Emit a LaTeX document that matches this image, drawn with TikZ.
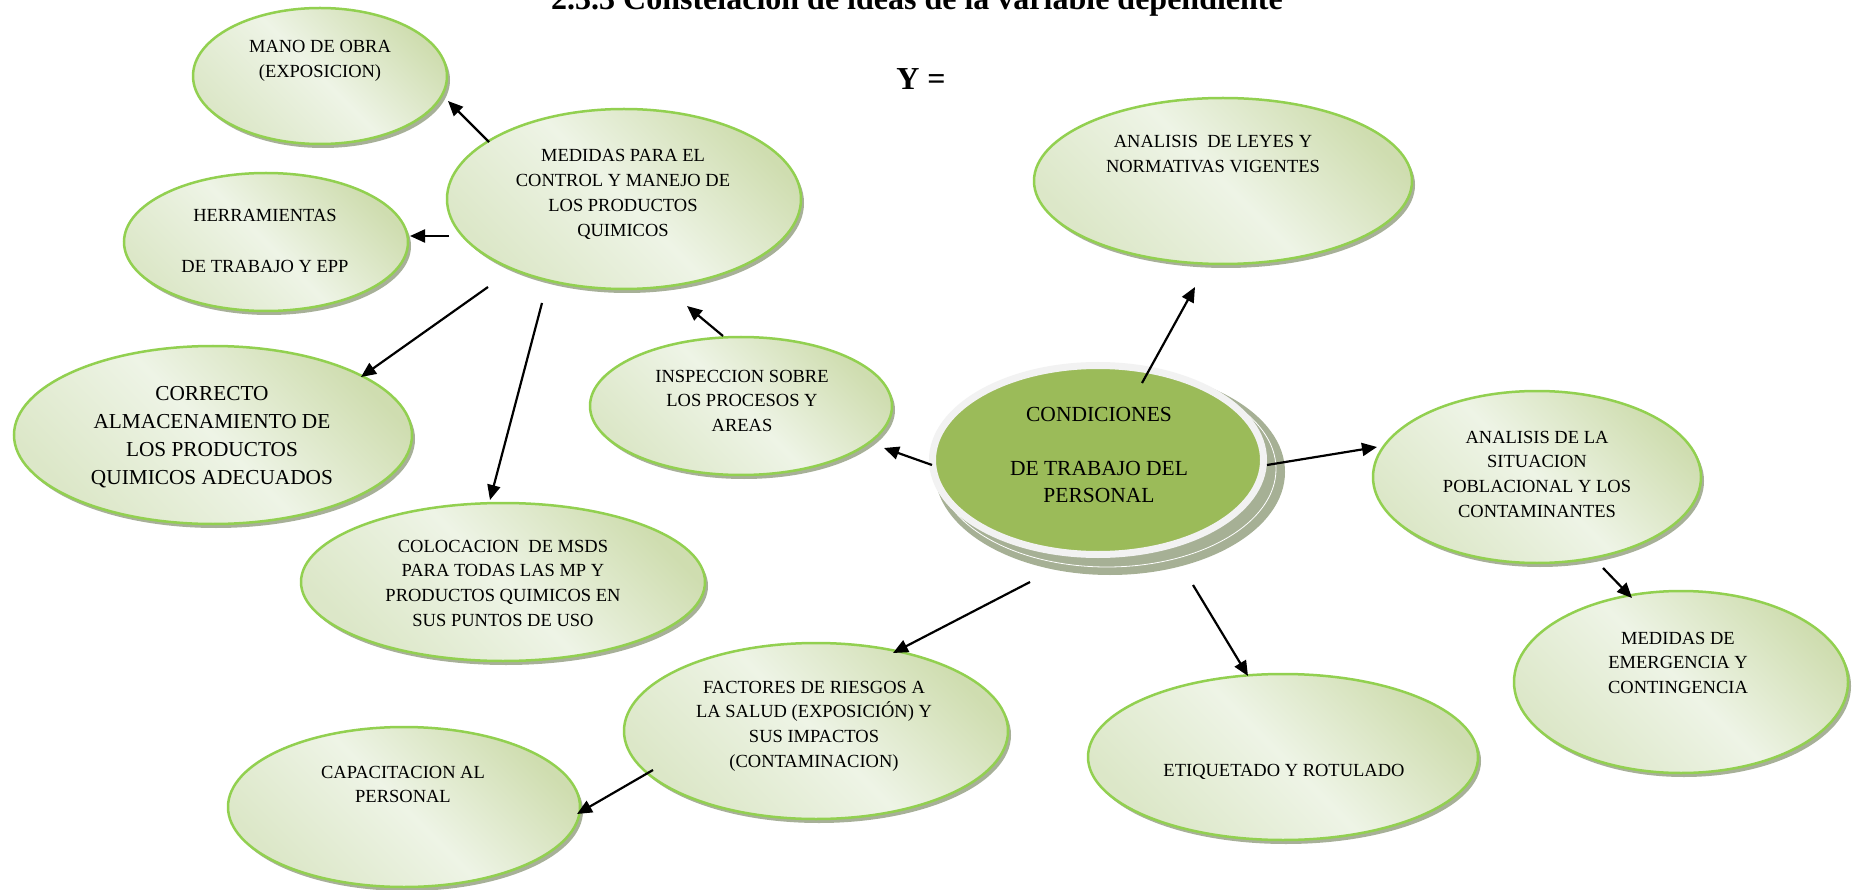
\documentclass[tikz,border=0pt]{standalone}
\usepackage{fontspec}
\setmainfont{Liberation Serif}
\usetikzlibrary{shapes.geometric,shadows,arrows.meta}
\definecolor{gborder}{HTML}{92D050}
\definecolor{glight}{HTML}{EEF4E6}
\definecolor{gdark}{HTML}{CFDDB0}
\definecolor{gmid}{HTML}{DCE7C8}
\definecolor{gshadow}{HTML}{98A387}
\definecolor{cgreen}{HTML}{9BBB59}
\definecolor{ringc}{HTML}{F2F2F2}
\definecolor{cshadow}{HTML}{A6B095}
\newcommand\tl[1]{\begin{tabular}[t]{@{}c@{}}#1\end{tabular}}
\tikzset{
  bub/.style={ellipse, draw=gborder, line width=2.5pt, inner sep=0pt,
    top color=gdark, bottom color=gmid, middle color=glight, shading angle=-45,
    drop shadow={shadow xshift=3pt, shadow yshift=-4pt, fill=gshadow, opacity=0.85}},
  txt/.style={anchor=base, inner sep=0pt, font=\fontsize{18.5}{24.7}\selectfont},
  arr/.style={line width=2.2pt, -{Triangle[length=15pt,width=13pt]}},
}
\begin{document}
\begin{tikzpicture}[x=1pt,y=-1pt]
\fill[white] (0,0) rectangle (1852,890);
\useasboundingbox (0,0) rectangle (1852,890);
% title
\node[anchor=base, inner sep=0pt, font=\fontsize{32}{36}\selectfont\bfseries] (title) at (917,10) {2.3.3 Constelación de ideas de la variable dependiente};
\node[anchor=base, inner sep=0pt, font=\fontsize{32}{36}\selectfont\bfseries] (yeq) at (921,90) {Y =};
% bubbles
\node[bub, minimum width=254pt, minimum height=136pt] (mano) at (320,76) {};
\node[bub, minimum width=354pt, minimum height=180pt] (med) at (624,199) {};
\node[bub, minimum width=284pt, minimum height=138pt] (herr) at (266,242) {};
\node[bub, minimum width=398pt, minimum height=178pt] (corr) at (213,435) {};
\node[bub, minimum width=404pt, minimum height=158pt] (col) at (503,582) {};
\node[bub, minimum width=302pt, minimum height=138pt] (insp) at (741,406) {};
\node[bub, minimum width=378pt, minimum height=166pt] (leyes) at (1223,181) {};
\node[bub, minimum width=328pt, minimum height=172pt] (sit) at (1537,477) {};
\node[bub, minimum width=334pt, minimum height=182pt] (emer) at (1681,682) {};
\node[bub, minimum width=390pt, minimum height=166pt] (etiq) at (1283,757) {};
\node[bub, minimum width=384pt, minimum height=176pt] (fact) at (816,731) {};
\node[bub, minimum width=352pt, minimum height=160pt] (cap) at (404,807) {};
% central
\node[ellipse, fill=cshadow, inner sep=0pt, minimum width=350pt, minimum height=206pt] (condS) at (1110,472) {};
\node[ellipse, draw=white, line width=0.8pt, inner sep=0pt, minimum width=338pt, minimum height=196pt] (condL) at (1107,469) {};
\node[ellipse, draw=ringc, line width=7pt, fill=cgreen, inner sep=0pt, minimum width=331pt, minimum height=189pt] (cond) at (1098,460) {};
% texts
\node[txt] (manoT) at (320,53) {\tl{MANO DE OBRA\\(EXPOSICION)}};
\node[txt] (medT) at (623,162) {\tl{MEDIDAS PARA EL\\CONTROL Y MANEJO DE\\LOS PRODUCTOS\\QUIMICOS}};
\node[txt, font=\fontsize{18.5}{25.5}\selectfont] (herrT) at (265,222) {\tl{HERRAMIENTAS\\ \\DE TRABAJO Y EPP}};
\node[txt, font=\fontsize{21.3}{28}\selectfont] (corrT) at (212,400) {\tl{CORRECTO\\ALMACENAMIENTO DE\\LOS PRODUCTOS\\QUIMICOS ADECUADOS}};
\node[txt] (colT) at (503,552) {\tl{COLOCACION\ \ DE MSDS\\PARA TODAS LAS MP Y\\PRODUCTOS QUIMICOS EN\\SUS PUNTOS DE USO}};
\node[txt] (inspT) at (742,382) {\tl{INSPECCION SOBRE\\LOS PROCESOS Y\\AREAS}};
\node[txt, font=\fontsize{21.5}{27}\selectfont] (condT) at (1099,421) {\tl{CONDICIONES\\ \\DE TRABAJO DEL\\PERSONAL}};
\node[txt] (leyesT) at (1213,148) {\tl{ANALISIS\ \ DE LEYES Y\\NORMATIVAS VIGENTES}};
\node[txt] (sitT) at (1537,443) {\tl{ANALISIS DE LA\\SITUACION\\POBLACIONAL Y LOS\\CONTAMINANTES}};
\node[txt] (emerT) at (1678,644) {\tl{MEDIDAS DE\\EMERGENCIA Y\\CONTINGENCIA}};
\node[txt] (etiqT) at (1284,776) {ETIQUETADO Y ROTULADO};
\node[txt] (factT) at (814,693) {\tl{FACTORES DE RIESGOS A\\LA SALUD (EXPOSICIÓN) Y\\SUS IMPACTOS\\(CONTAMINACION)}};
\node[txt] (capT) at (403,778) {\tl{CAPACITACION AL\\PERSONAL}};
% connector end points
\coordinate (medA) at (489,142);  \coordinate (manoA) at (448,101);
\coordinate (medB) at (449,236);  \coordinate (herrA) at (410,236);
\coordinate (medC) at (488,287);  \coordinate (corrA) at (361,377);
\coordinate (medD) at (542,303);  \coordinate (colA) at (490,500);
\coordinate (inspA) at (723,336); \coordinate (medE) at (687,306);
\coordinate (condA) at (932,465); \coordinate (inspB) at (884,448);
\coordinate (condB) at (1142,383); \coordinate (leyesA) at (1195,287);
\coordinate (condC) at (1267,465); \coordinate (sitA) at (1377,447);
\coordinate (sitB) at (1603,568); \coordinate (emerA) at (1632,598);
\coordinate (condD) at (1193,585); \coordinate (etiqA) at (1248,676);
\coordinate (condE) at (1030,582); \coordinate (factA) at (893,653);
\coordinate (factB) at (653,770); \coordinate (capA) at (577,814);
% connectors
\draw[arr] (medA) -- (manoA);
\draw[arr] (medB) -- (herrA);
\draw[arr] (medC) -- (corrA);
\draw[arr] (medD) -- (colA);
\draw[arr] (inspA) -- (medE);
\draw[arr] (condA) -- (inspB);
\draw[arr] (condB) -- (leyesA);
\draw[arr] (condC) -- (sitA);
\draw[arr] (sitB) -- (emerA);
\draw[arr] (condD) -- (etiqA);
\draw[arr] (condE) -- (factA);
\draw[arr] (factB) -- (capA);
\end{tikzpicture}
\end{document}
